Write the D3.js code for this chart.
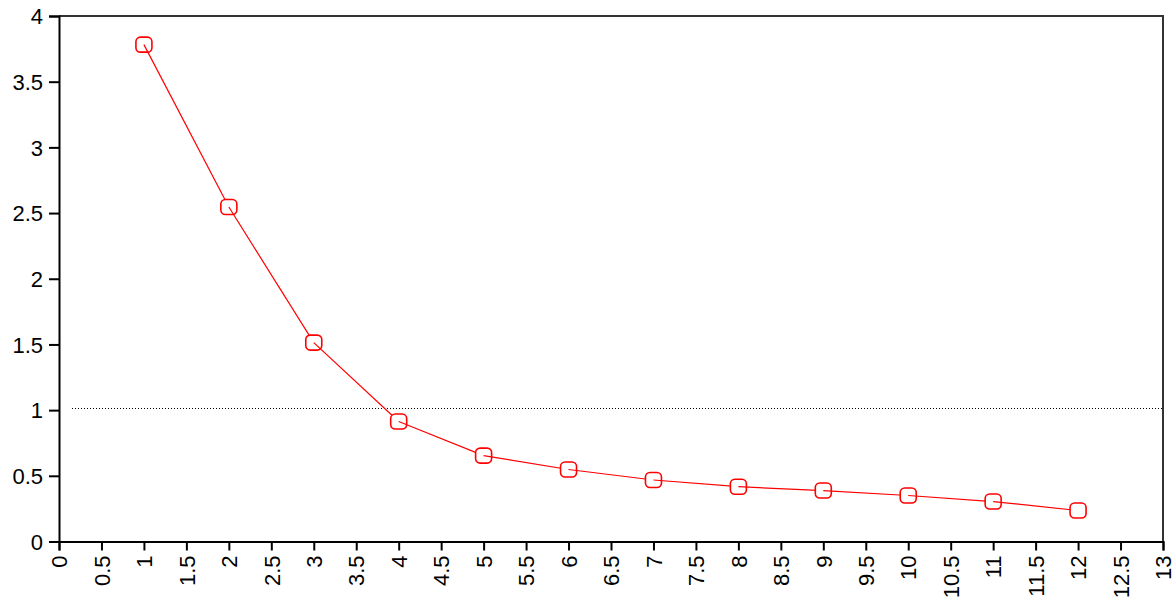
<!DOCTYPE html>
<html lang="en">
<head>
  <meta charset="UTF-8">
  <title>Line chart</title>
  <script src="https://d3js.org/d3.v7.min.js"></script>
  <style>
    body { margin: 0; background: #fff; }
    text { font-family: "Liberation Sans", Arial, sans-serif; font-size: 22px; fill: #000; }
  </style>
</head>
<body>
  <script>
    const xs = [1, 2, 3, 4, 5, 6, 7, 8, 9, 10, 11, 12];
    const values = [3.782, 2.546, 1.514, 0.913, 0.654, 0.548, 0.468, 0.417, 0.388, 0.350, 0.304, 0.236];
    const xTicks = d3.range(0, 13.01, 0.5);
    const yTicks = [0, 0.5, 1, 1.5, 2, 2.5, 3, 3.5, 4];
    const refLine = 1.013;

    const width = 1176, height = 600;
    const plotLeft = 59, plotRight = 1163, plotTop = 16, plotBottom = 541.5;

    const svg = d3.select("body").append("svg")
      .attr("width", width)
      .attr("height", height);

    const x = d3.scaleLinear().domain([0, 13]).range([plotLeft, plotRight]);
    const y = d3.scaleLinear().domain([0, 4]).range([plotBottom, plotTop]);

    // frame: top and right borders
    svg.append("path")
      .attr("d", `M${plotLeft},${plotTop}H${plotRight}V${plotBottom}`)
      .attr("fill", "none")
      .attr("stroke", "#333")
      .attr("stroke-width", 2);

    const yAxis = svg.append("g")
      .attr("transform", `translate(${plotLeft},0)`)
      .call(d3.axisLeft(y).tickValues(yTicks).tickSize(10).tickPadding(6).tickFormat(d3.format("")));

    const xAxis = svg.append("g")
      .attr("transform", `translate(0,${plotBottom})`)
      .call(d3.axisBottom(x).tickValues(xTicks).tickSize(9).tickFormat(d3.format("")));

    [xAxis, yAxis].forEach(g => {
      g.select(".domain").attr("stroke", "#000").attr("stroke-width", 2);
      g.selectAll(".tick line").attr("stroke", "#000").attr("stroke-width", 2);
      g.selectAll("text").style("font-size", "22px");
    });
    yAxis.selectAll("text").attr("dy", "0.35em");

    xAxis.selectAll(".tick text")
      .attr("transform", "rotate(-90)")
      .attr("x", -14)
      .attr("y", 0)
      .attr("dy", "0.35em")
      .attr("text-anchor", "end");

    // dotted reference line
    svg.append("line")
      .attr("x1", 72).attr("x2", plotRight)
      .attr("y1", Math.round(y(refLine)) + 0.5).attr("y2", Math.round(y(refLine)) + 0.5)
      .attr("stroke", "#000")
      .attr("stroke-width", 1)
      .attr("stroke-dasharray", "1,2");

    // markers and segments interleaved, like the original plot
    const pts = xs.map((d, i) => [x(d), y(values[i])]);
    const series = svg.append("g");
    pts.forEach((p, i) => {
      series.append("rect")
        .attr("x", p[0] - 8).attr("y", p[1] - 7.5)
        .attr("width", 16).attr("height", 15)
        .attr("rx", 4.5)
        .attr("fill", "#fff")
        .attr("stroke", "#ff0000")
        .attr("stroke-width", 1.6);
      if (i < pts.length - 1) {
        const q = pts[i + 1];
        series.append("line")
          .attr("x1", p[0]).attr("y1", p[1])
          .attr("x2", q[0]).attr("y2", q[1])
          .attr("stroke", "#ff0000")
          .attr("stroke-width", 1.2);
      }
    });
  </script>
</body>
</html>
